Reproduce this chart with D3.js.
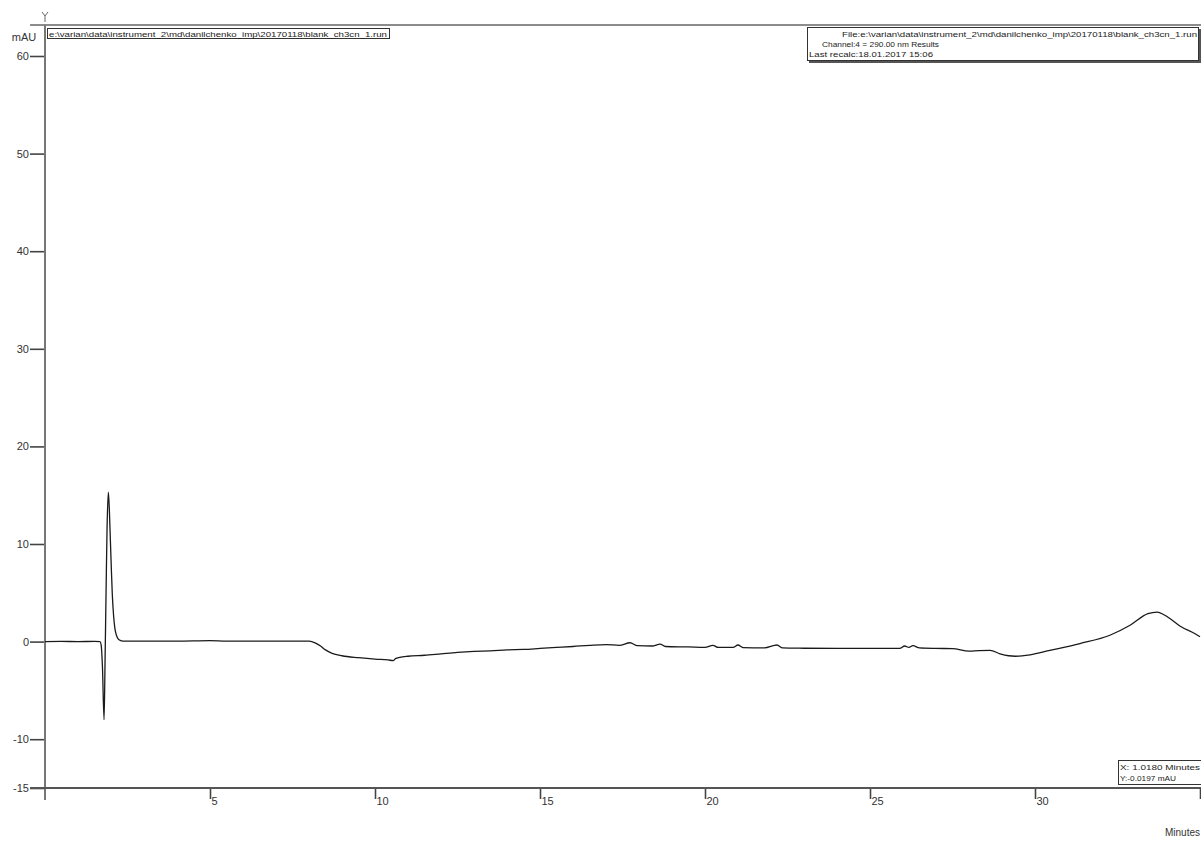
<!DOCTYPE html>
<html>
<head>
<meta charset="utf-8">
<script src="https://cdn.jsdelivr.net/npm/d3@7"></script>
<style>
  html, body { margin: 0; padding: 0; background: #fff; }
  svg { display: block; font-family: "Liberation Sans", Arial, Helvetica, sans-serif; }
</style>
</head>
<body>
<svg id="chart" width="1201" height="841"></svg>
<script>
// ---- data ----
const timeMin = [0, 0.5, 1.0, 1.5, 1.667, 1.70, 1.74, 1.79, 1.82, 1.85, 1.88, 1.92, 1.95, 1.98, 2.01, 2.04, 2.08, 2.12, 2.16, 2.21, 2.28, 2.36,
  3.0, 4.0, 5.0, 5.5, 6.0, 7.0, 7.5, 8.0, 8.2, 8.35, 8.5, 8.7, 9.0, 9.5, 10.0, 10.4, 10.55, 10.62, 10.75, 11.0, 11.5, 12.0, 12.5,
  13.0, 13.5, 14.0, 14.5, 15.0, 15.5, 16.0, 16.5, 17.0, 17.4, 17.73, 17.95, 18.4, 18.64, 18.8, 19.5, 20.0, 20.24, 20.4, 20.85,
  21.0, 21.15, 21.8, 22.18, 22.35, 23.0, 24.0, 25.0, 25.9, 26.05, 26.18, 26.3, 26.5, 27.0, 27.5, 28.0, 28.3, 28.64, 28.94,
  29.2, 29.4, 29.85, 30.45, 31.36, 32.27, 32.88, 33.42, 33.7, 34.03, 34.39, 34.85, 35.0];
const absorbance = [0, 0.02, 0, 0.02, 0, -0.3, -2.5, -8.0, -2.0, 5.0, 11.5, 15.3, 13.5, 10.5, 7.5, 4.8, 2.6, 1.3, 0.7, 0.3, 0.12, 0.05,
  0.05, 0.05, 0.1, 0.05, 0.05, 0.05, 0.05, 0.05, -0.15, -0.45, -0.85, -1.2, -1.45, -1.65, -1.8, -1.88, -1.95, -1.75, -1.62, -1.5, -1.4, -1.25, -1.1,
  -1.0, -0.95, -0.85, -0.8, -0.7, -0.6, -0.5, -0.38, -0.3, -0.38, -0.12, -0.42, -0.45, -0.25, -0.5, -0.55, -0.6, -0.38, -0.6, -0.6,
  -0.35, -0.62, -0.65, -0.35, -0.65, -0.68, -0.7, -0.7, -0.7, -0.45, -0.6, -0.42, -0.65, -0.7, -0.72, -0.98, -0.92, -0.9, -1.25,
  -1.45, -1.5, -1.35, -0.9, -0.2, 0.65, 1.67, 2.86, 3.03, 2.5, 1.6, 0.8, 0.5];
const yTicks = [-15, -10, 0, 10, 20, 30, 40, 50, 60];
const xTicks = [5, 10, 15, 20, 25, 30, 35];
const xTickLabels = ["5", "10", "15", "20", "25", "30", ""];
const yUnit = "mAU";
const xUnit = "Minutes";
const fileLabel = "e:\\varian\\data\\instrument_2\\md\\danilchenko_imp\\20170118\\blank_ch3cn_1.run";
const infoLines = [
  "File:e:\\varian\\data\\instrument_2\\md\\danilchenko_imp\\20170118\\blank_ch3cn_1.run",
  "Channel:4 = 290.00 nm Results",
  "Last recalc:18.01.2017 15:06"
];
const cursorLines = ["X: 1.0180 Minutes", "Y:-0.0197 mAU"];

// ---- scales ----
const svg = d3.select("#chart");
const x = d3.scaleLinear().domain([0, 35]).range([45, 1200]);
const y = d3.scaleLinear().domain([-15, 60]).range([788, 56]);

const textColor = "#333";

// top border line
svg.append("line").attr("x1", 30).attr("x2", 1201).attr("y1", 25).attr("y2", 25)
  .attr("stroke", "#666").attr("stroke-width", 1.6);

// y axis
const yAxis = svg.append("g").attr("transform", `translate(${x(0)},0)`)
  .call(d3.axisLeft(y).tickValues(yTicks).tickSize(15).tickPadding(1).tickFormat(d => String(d)));
yAxis.select(".domain").remove();
yAxis.selectAll(".tick line").attr("stroke", "#444").attr("stroke-width", 1.6);
yAxis.selectAll(".tick text").attr("fill", textColor).style("font-size", "11px");
svg.append("line").attr("x1", x(0)).attr("x2", x(0)).attr("y1", 25).attr("y2", 800)
  .attr("stroke", "#777").attr("stroke-width", 2);

// y axis arrow symbol
svg.append("path").attr("d", "M42,12 L45,16 L48,12 M45,16 L45,22")
  .attr("fill", "none").attr("stroke", "#666").attr("stroke-width", 1);

// unit label
svg.append("text").attr("x", 24).attr("y", 41).attr("text-anchor", "middle")
  .attr("fill", textColor).style("font-size", "11px").text(yUnit);

// x axis
const xAxis = svg.append("g").attr("transform", `translate(0,${y(-15)})`)
  .call(d3.axisBottom(x).tickValues(xTicks).tickSize(11).tickPadding(0)
    .tickFormat((d, i) => xTickLabels[i]));
xAxis.select(".domain").remove();
xAxis.selectAll(".tick line").attr("stroke", "#444").attr("stroke-width", 1.6);
xAxis.selectAll(".tick text").attr("fill", textColor).style("font-size", "11px")
  .attr("text-anchor", "start").attr("x", 1).attr("y", 9).attr("dy", "0.71em");
svg.append("line").attr("x1", 30).attr("x2", 1201).attr("y1", y(-15)).attr("y2", y(-15))
  .attr("stroke", "#555").attr("stroke-width", 1.8);

svg.append("text").attr("x", 1200).attr("y", 836).attr("text-anchor", "end")
  .attr("fill", textColor).style("font-size", "10px").text(xUnit);

// trace
const pts = timeMin.map((t, i) => [t, absorbance[i]]);
svg.append("path").datum(pts)
  .attr("fill", "none").attr("stroke", "#1a1a1a").attr("stroke-width", 1.3)
  .attr("stroke-linejoin", "round")
  .attr("d", d3.line().x(d => x(d[0])).y(d => y(d[1])).curve(d3.curveMonotoneX));

// file label box (top-left)
svg.append("rect").attr("x", 47.5).attr("y", 28.5).attr("width", 342).attr("height", 10)
  .attr("fill", "#fff").attr("stroke", "#333").attr("stroke-width", 1);
svg.append("text").attr("x", 49).attr("y", 36.5).attr("fill", "#222")
  .style("font-size", "7.5px").attr("textLength", 338).attr("lengthAdjust", "spacingAndGlyphs")
  .text(fileLabel);

// info box (top-right)
svg.append("rect").attr("x", 809).attr("y", 29).attr("width", 392).attr("height", 34)
  .attr("fill", "#555");
svg.append("rect").attr("x", 807.5).attr("y", 27.5).attr("width", 391).attr("height", 33)
  .attr("fill", "#fff").attr("stroke", "#333").attr("stroke-width", 1);
svg.append("text").attr("x", 842).attr("y", 37).attr("fill", "#222").style("font-size", "7.5px")
  .attr("textLength", 355).attr("lengthAdjust", "spacingAndGlyphs").text(infoLines[0]);
svg.append("text").attr("x", 822).attr("y", 47).attr("fill", "#222").style("font-size", "7.5px")
  .attr("textLength", 117).attr("lengthAdjust", "spacingAndGlyphs").text(infoLines[1]);
svg.append("text").attr("x", 809).attr("y", 57).attr("fill", "#222").style("font-size", "7.5px")
  .attr("textLength", 124).attr("lengthAdjust", "spacingAndGlyphs").text(infoLines[2]);

// cursor box (bottom-right)
svg.append("rect").attr("x", 1118.5).attr("y", 760.5).attr("width", 83).attr("height", 24)
  .attr("fill", "#fff").attr("stroke", "#333").attr("stroke-width", 1);
svg.append("text").attr("x", 1120).attr("y", 770).attr("fill", "#222").style("font-size", "7.5px")
  .attr("textLength", 80).attr("lengthAdjust", "spacingAndGlyphs").text(cursorLines[0]);
svg.append("text").attr("x", 1120).attr("y", 781).attr("fill", "#222").style("font-size", "7.5px")
  .attr("textLength", 56).attr("lengthAdjust", "spacingAndGlyphs").text(cursorLines[1]);
</script>
</body>
</html>
